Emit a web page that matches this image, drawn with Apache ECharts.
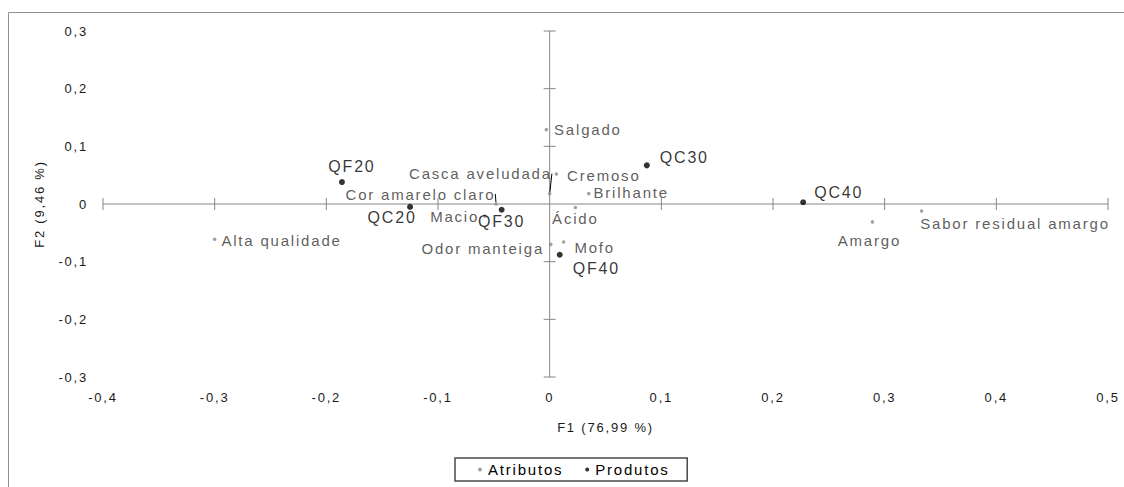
<!DOCTYPE html>
<html>
<head>
<meta charset="utf-8">
<script src="https://cdn.jsdelivr.net/npm/echarts@6/dist/echarts.min.js"></script>
<style>
  html, body { margin: 0; padding: 0; background: #fff; }
  #chart { width: 1124px; height: 487px; letter-spacing: 1.8px; }
</style>
</head>
<body>
<div id="chart"></div>
<script>
// Atributos sensoriais: coordenadas nos fatores F1 (x) e F2 (y)
const atributosNomes = ['Salgado', 'Alta qualidade', 'Amargo', 'Sabor residual amargo', 'Brilhante',
  'Ácido', 'Mofo', 'Odor manteiga', 'Casca aveludada', 'Cremoso', 'Cor amarelo claro', 'Macio'];
const atributosF1 = [-0.003, -0.300, 0.289, 0.333, 0.035, 0.023, 0.0125, 0.001, 0.000, 0.006, -0.048, -0.058];
const atributosF2 = [0.129, -0.061, -0.031, -0.012, 0.018, -0.006, -0.066, -0.070, 0.018, 0.052, 0.000, -0.021];

// Produtos (queijos): coordenadas nos fatores F1 (x) e F2 (y)
const produtosNomes = ['QF20', 'QC20', 'QF30', 'QC30', 'QC40', 'QF40'];
const produtosF1 = [-0.186, -0.125, -0.043, 0.087, 0.227, 0.009];
const produtosF2 = [0.038, -0.005, -0.010, 0.067, 0.003, -0.088];

// Marcas dos eixos
const xTicks = [-0.4, -0.3, -0.2, -0.1, 0, 0.1, 0.2, 0.3, 0.4, 0.5];
const yTicks = [-0.3, -0.2, -0.1, 0, 0.1, 0.2, 0.3];

const FONTE = '"Liberation Sans", Arial, sans-serif';

// Lado do ponto em que fica cada rótulo e deslocamento extra (px)
const rotulosAtributos = {
  'Salgado':               { position: 'right',  dx: 1,  dy: 0 },
  'Alta qualidade':        { position: 'right',  dx: 0,  dy: 1 },
  'Amargo':                { position: 'bottom', dx: -3, dy: 4 },
  'Sabor residual amargo': { position: 'right',  dx: -8, dy: 13 },
  'Brilhante':             { position: 'right',  dx: -2, dy: -1 },
  'Ácido':                 { position: 'bottom', dx: 0,  dy: -3 },
  'Mofo':                  { position: 'right',  dx: 4,  dy: 5 },
  'Odor manteiga':         { position: 'left',   dx: 0,  dy: 4 },
  'Casca aveludada':       { position: 'left',   dx: 9,  dy: -20, guia: true },
  'Cremoso':               { position: 'right',  dx: 4,  dy: 1 },
  'Cor amarelo claro':     { position: 'left',   dx: 6,  dy: -10, guia: true },
  'Macio':                 { position: 'left',   dx: 1,  dy: 0 }
};
const rotulosProdutos = {
  'QF20': { position: 'top',    offset: [10, 0] },
  'QC20': { position: 'bottom', offset: [-18, -5] },
  'QF30': { position: 'bottom', offset: [0, -4] },
  'QC30': { position: 'right',  offset: [5, -8] },
  'QC40': { position: 'right',  offset: [3, -10] },
  'QF40': { position: 'right',  offset: [5, 14] }
};

function fmt(v) {
  if (Math.abs(v) < 1e-9) return '0';
  return v.toFixed(1).replace('.', ',');
}

const dadosAtributos = atributosNomes.map(function (n, i) {
  const r = rotulosAtributos[n];
  const item = {
    name: n,
    value: [atributosF1[i], atributosF2[i]],
    label: { position: r.position }
  };
  if (r.guia) item.labelLine = { show: true };
  return item;
});
const dadosProdutos = produtosNomes.map(function (n, i) {
  return {
    name: n,
    value: [produtosF1[i], produtosF2[i]],
    label: Object.assign({}, rotulosProdutos[n])
  };
});

const chart = echarts.init(document.getElementById('chart'), null, { renderer: 'svg' });

const cinzaEixo = '#868686';

chart.setOption({
  animation: false,
  backgroundColor: '#ffffff',
  textStyle: { fontFamily: FONTE },
  graphic: [{
    type: 'rect',
    silent: true,
    z: -10,
    shape: { x: 8.5, y: 12.5, width: 1300, height: 700 },
    style: { fill: null, stroke: '#8f8f8f', lineWidth: 1 }
  }],
  grid: { left: 103, right: 16, top: 31, bottom: 110, containLabel: false },
  xAxis: {
    type: 'value',
    min: -0.4, max: 0.5, interval: 0.1,
    name: 'F1 (76,99 %)',
    nameLocation: 'middle',
    nameGap: 44,
    nameTextStyle: { color: '#1a1a1a', fontSize: 13, fontFamily: FONTE },
    axisLine: { show: false, onZero: false },
    axisTick: { show: false },
    splitLine: { show: false },
    axisLabel: { color: '#1a1a1a', fontSize: 13, fontFamily: FONTE, margin: 14, formatter: fmt, hideOverlap: false }
  },
  yAxis: {
    type: 'value',
    min: -0.3, max: 0.3, interval: 0.1,
    name: 'F2 (9,46 %)',
    nameLocation: 'middle',
    nameGap: 57,
    nameRotate: 90,
    nameTextStyle: { color: '#1a1a1a', fontSize: 13, fontFamily: FONTE },
    axisLine: { show: false, onZero: false },
    axisTick: { show: false },
    splitLine: { show: false },
    axisLabel: { color: '#1a1a1a', fontSize: 13, fontFamily: FONTE, margin: 15, formatter: fmt, hideOverlap: false }
  },
  legend: {
    data: [
      { name: 'Atributos', itemStyle: { color: '#8a8a8a' } },
      { name: 'Produtos', itemStyle: { color: '#000000' } }
    ],
    left: 455,
    top: 458,
    orient: 'horizontal',
    icon: 'circle',
    itemWidth: 4,
    itemHeight: 4,
    itemGap: 38,
    padding: [4, 32, 4, 23],
    borderColor: '#4a4a4a',
    borderWidth: 1.5,
    borderRadius: 0,
    textStyle: { color: '#000', fontSize: 15, fontFamily: FONTE, padding: [0, 0, 0, 1] },
    selectedMode: false
  },
  series: [
    {
      // Eixos cruzando na origem, com marcas dos dois lados
      type: 'custom',
      name: 'eixos',
      silent: true,
      z: 1,
      data: [[0, 0]],
      renderItem: function (params, api) {
        const kids = [];
        const estilo = { stroke: cinzaEixo, lineWidth: 1 };
        const a = api.coord([xTicks[0], 0]);
        const b = api.coord([xTicks[xTicks.length - 1], 0]);
        kids.push({ type: 'line', shape: { x1: a[0], y1: a[1], x2: b[0], y2: b[1] }, style: estilo });
        const c = api.coord([0, yTicks[0]]);
        const d = api.coord([0, yTicks[yTicks.length - 1]]);
        kids.push({ type: 'line', shape: { x1: c[0], y1: c[1], x2: d[0], y2: d[1] }, style: estilo });
        xTicks.forEach(function (t) {
          if (Math.abs(t) < 1e-9) return;
          const p = api.coord([t, 0]);
          kids.push({ type: 'line', shape: { x1: p[0], y1: p[1] - 6, x2: p[0], y2: p[1] + 6 }, style: estilo });
        });
        yTicks.forEach(function (t) {
          if (Math.abs(t) < 1e-9) return;
          const p = api.coord([0, t]);
          kids.push({ type: 'line', shape: { x1: p[0] - 6, y1: p[1], x2: p[0] + 6, y2: p[1] }, style: estilo });
        });
        return { type: 'group', children: kids };
      }
    },
    {
      name: 'Atributos',
      type: 'scatter',
      z: 3,
      symbol: 'circle',
      symbolSize: 3.5,
      itemStyle: { color: '#8a8a8a' },
      label: {
        show: true,
        formatter: '{b}',
        color: '#333333',
        fontSize: 15,
        fontFamily: FONTE,
        distance: 5
      },
      labelLine: { show: false, lineStyle: { color: '#000000', width: 1 } },
      labelLayout: function (p) {
        const r = rotulosAtributos[atributosNomes[p.dataIndex]];
        return { dx: r.dx, dy: r.dy };
      },
      data: dadosAtributos
    },
    {
      name: 'Produtos',
      type: 'scatter',
      z: 4,
      symbol: 'circle',
      symbolSize: 6,
      itemStyle: { color: '#000000' },
      label: {
        show: true,
        formatter: '{b}',
        color: '#000000',
        fontSize: 16,
        fontFamily: FONTE,
        distance: 5
      },
      data: dadosProdutos
    }
  ]
});
</script>
</body>
</html>
